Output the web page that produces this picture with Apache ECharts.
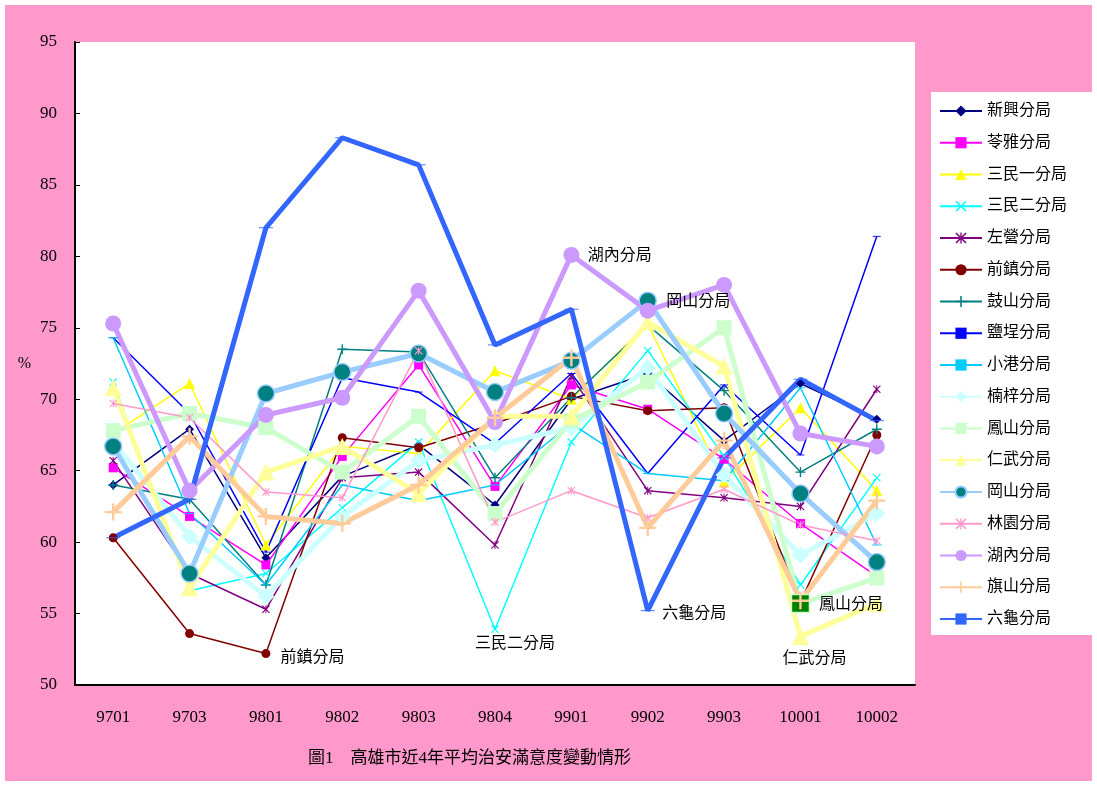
<!DOCTYPE html>
<html><head><meta charset="utf-8">
<script src="https://cdn.jsdelivr.net/npm/echarts@6/dist/echarts.min.js"></script>
<style>html,body{margin:0;padding:0;background:#fff}#c{width:1097px;height:792px}</style>
</head><body><div id="c"></div>
<script>
const categories = ['9701','9703','9801','9802','9803','9804','9901','9902','9903','10001','10002'];
const yTicks = [50,55,60,65,70,75,80,85,90,95];

const xinXing   = [64.0, 67.9, 58.9, 64.6, 66.8, 62.6, 70.0, 71.8, 67.1, 71.1, 68.6];
const lingYa    = [65.2, 61.8, 58.4, 66.0, 72.4, 63.9, 71.0, 69.3, 65.8, 61.3, 57.6];
const sanMin1   = [67.6, 71.1, 59.8, 66.7, 66.2, 72.0, 70.0, 75.3, 64.2, 69.4, 63.6];
const sanMin2   = [71.2, 56.6, 57.8, 62.4, 67.0, 53.9, 67.0, 73.4, 66.0, 57.0, 64.5];
const zuoYing   = [65.7, 57.8, 55.3, 64.5, 64.9, 59.8, 71.6, 63.6, 63.1, 62.5, 70.7];
const qianZhen  = [60.3, 53.6, 52.2, 67.3, 66.6, 68.3, 70.2, 69.2, 69.4, 55.8, 67.5];
const guShan    = [64.0, 63.0, 57.0, 73.5, 73.3, 64.5, 70.1, 75.2, 70.6, 64.9, 67.9];
const yanCheng  = [74.3, 69.0, 59.3, 71.5, 70.5, 66.9, 71.8, 64.8, 71.0, 66.1, 81.4];
const xiaoGang  = [74.3, 62.0, 57.0, 64.0, 62.9, 64.0, 68.3, 64.8, 64.3, 70.8, 59.8];
const nanZi     = [67.0, 60.4, 56.2, 61.8, 65.7, 66.8, 68.0, 72.2, 64.7, 59.1, 62.0];
const fengShan  = [67.8, 69.0, 68.0, 64.9, 68.8, 62.0, 68.5, 71.2, 75.0, 55.7, 57.5];
const renWu     = [70.8, 56.8, 64.9, 66.7, 63.4, 68.8, 68.8, 75.4, 72.3, 53.4, 55.7];
const gangShan  = [66.7, 57.8, 70.4, 71.9, 73.2, 70.5, 72.7, 76.9, 69.0, 63.4, 58.6];
const linYuan   = [69.7, 68.7, 63.5, 63.1, 73.4, 61.4, 63.6, 61.7, 63.7, 61.2, 60.1];
const huNei     = [75.3, 63.6, 68.9, 70.1, 77.6, 68.4, 80.1, 76.2, 78.0, 67.6, 66.7];
const qiShan    = [62.1, 67.4, 61.8, 61.3, 64.0, 68.7, 72.9, 61.0, 67.1, 55.9, 62.9];
const liuGui    = [60.3, 63.0, 82.0, 88.3, 86.4, 73.8, 76.3, 55.2, 65.9, 71.4, 68.5];

const FONT = '"Liberation Serif","Noto Sans CJK TC",serif';
const P_X = 'path://M1,0L5,4L9,0L10,1L6,5L10,9L9,10L5,6L1,10L0,9L4,5L0,1Z';
const P_AST = 'path://M1,0L5,4L9,0L10,1L6,5L10,9L9,10L5,6L1,10L0,9L4,5L0,1Z M4.4,0L5.6,0L5.6,10L4.4,10Z';
const P_PLUS = 'path://M4.3,0L5.7,0L5.7,4.3L10,4.3L10,5.7L5.7,5.7L5.7,10L4.3,10L4.3,5.7L0,5.7L0,4.3L4.3,4.3Z';
const P_DASH = 'path://M0,0L10,0L10,3L0,3Z';

function ann(catIdx, arr, text, pos, dist, off) {
  return {
    symbol: 'circle', symbolSize: 1, silent: true,
    itemStyle: {color: 'rgba(0,0,0,0)'},
    label: {show: true, position: pos, distance: dist, offset: off, formatter: text,
            color: '#000', fontSize: 16, fontFamily: FONT},
    data: [{coord: [categories[catIdx], arr[catIdx]]}]
  };
}

function s(name, data, color, symbol, size, width, extra) {
  return Object.assign({
    name, type: 'line', data, symbol, symbolSize: size, showAllSymbol: true, symbolKeepAspect: true,
    lineStyle: {color, width}, itemStyle: {color},
    emphasis: {disabled: true}, animation: false
  }, extra || {});
}

const fengShanData = fengShan.map((v, i) => i === 9
  ? {value: v, symbol: 'rect', symbolSize: 18, itemStyle: {color: '#008000', borderColor: '#CCFFCC', borderWidth: 1.5}}
  : v);

const series = [
  s('新興分局', xinXing, '#000080', 'diamond', 9, 1.5),
  s('苓雅分局', lingYa, '#FF00FF', 'rect', 9, 1.5),
  s('三民一分局', sanMin1, '#FFFF00', 'triangle', 11, 1.5),
  s('三民二分局', sanMin2, '#00FFFF', P_X, 8, 1.5, {markPoint: ann(5, sanMin2, '三民二分局', 'bottom', 6, [20, 0])}),
  s('左營分局', zuoYing, '#800080', P_AST, 8, 1.5),
  s('前鎮分局', qianZhen, '#800000', 'circle', 9, 1.5, {markPoint: ann(2, qianZhen, '前鎮分局', 'right', 14, [0, 4])}),
  s('鼓山分局', guShan, '#008080', P_PLUS, 10, 1.5),
  s('鹽埕分局', yanCheng, '#0000FF', P_DASH, [8, 3], 1.5),
  s('小港分局', xiaoGang, '#00CCFF', P_DASH, [10, 3], 1.5),
  s('楠梓分局', nanZi, '#CCFFFF', 'diamond', 17, 5),
  s('鳳山分局', fengShanData, '#CCFFCC', 'rect', 15, 5, {markPoint: ann(9, fengShan, '鳳山分局', 'right', 18, [0, 1])}),
  s('仁武分局', renWu, '#FFFF99', 'triangle', 17, 5, {markPoint: ann(9, renWu, '仁武分局', 'bottom', 14, [14, 0])}),
  s('岡山分局', gangShan, '#99CCFF', 'circle', 17, 5, {
    itemStyle: {color: '#008080', borderColor: '#99CCFF', borderWidth: 1.5},
    markPoint: ann(7, gangShan, '岡山分局', 'right', 18, [0, 1])}),
  s('林園分局', linYuan, '#FF99CC', P_AST, 8, 1.5),
  s('湖內分局', huNei, '#CC99FF', 'circle', 16, 5, {markPoint: ann(6, huNei, '湖內分局', 'right', 16, [0, 1])}),
  s('旗山分局', qiShan, '#FFCC99', P_PLUS, 17, 5),
  s('六龜分局', liuGui, '#3366FF', P_DASH, [14, 3], 5, {markPoint: ann(7, liuGui, '六龜分局', 'right', 14, [0, 3])})
];

const chart = echarts.init(document.getElementById('c'), null, {renderer: 'canvas'});
chart.setOption({
  backgroundColor: '#fff',
  animation: false,
  graphic: [{type: 'rect', z: -10, silent: true, shape: {x: 5, y: 5, width: 1087, height: 776}, style: {fill: '#FF99CC'}}],
  title: {
    text: '圖1　高雄市近4年平均治安滿意度變動情形',
    left: 303, top: 745,
    textStyle: {fontSize: 17, fontWeight: 'normal', color: '#000', fontFamily: FONT}
  },
  legend: {
    orient: 'vertical', left: 931, top: 92,
    backgroundColor: '#fff',
    padding: [11, 26, 8, 8],
    itemWidth: 42, itemHeight: 14, itemGap: 15.75,
    textStyle: {fontSize: 16, color: '#000', fontFamily: FONT},
    data: series.map(x => x.name)
  },
  grid: {left: 75, right: 182, top: 42, bottom: 107, show: true, backgroundColor: '#fff', borderWidth: 0},
  xAxis: {
    type: 'category', data: categories, boundaryGap: true,
    axisLine: {lineStyle: {color: '#000', width: 2}},
    axisTick: {inside: true, length: 7, lineStyle: {color: '#000'}},
    axisLabel: {margin: 24, fontSize: 17, color: '#000', fontFamily: FONT}
  },
  yAxis: {
    type: 'value', min: yTicks[0], max: yTicks[yTicks.length - 1], interval: 5,
    name: '%', nameLocation: 'middle', nameRotate: 0, nameGap: 44,
    nameTextStyle: {fontSize: 16, color: '#000', fontFamily: FONT},
    axisLine: {show: true, lineStyle: {color: '#000', width: 2}},
    axisTick: {show: true, inside: true, length: 5, lineStyle: {color: '#000'}},
    axisLabel: {margin: 18, fontSize: 17, color: '#000', fontFamily: FONT},
    splitLine: {show: false}
  },
  series
});
</script></body></html>
